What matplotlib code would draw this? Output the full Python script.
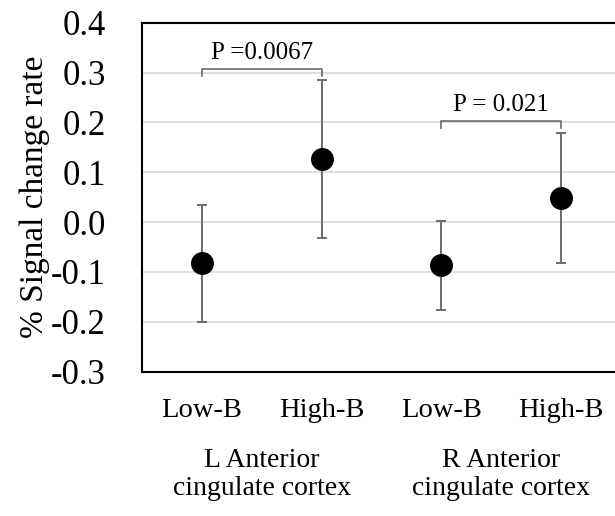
import matplotlib
matplotlib.use("Agg")
import matplotlib.pyplot as plt
import matplotlib.transforms as mtransforms

plt.rcParams['font.family'] = ['Liberation Serif', 'DejaVu Serif']

# values
conditions = ['Low-B', 'High-B', 'Low-B', 'High-B']
means = [-0.083, 0.126, -0.087, 0.048]
errors = [0.118, 0.158, 0.090, 0.130]
regions = ['L Anterior', 'R Anterior']
region_sub = ['cingulate cortex', 'cingulate cortex']
p_labels = ['P =0.0067', 'P = 0.021']
p_pairs = [(0, 1), (2, 3)]
p_bracket_y = [0.307, 0.202]
yticks = [-0.3, -0.2, -0.1, 0.0, 0.1, 0.2, 0.3, 0.4]

fig = plt.figure(figsize=(6.15, 5.16), dpi=100)
ax = fig.add_axes([0.2309, 0.2797, 0.779, 0.6764])

x = list(range(len(means)))
ax.errorbar(x, means, yerr=errors, fmt='none', ecolor='#6b6b6b',
            elinewidth=1.4, capsize=3.5, capthick=1.4, zorder=3)
ax.plot(x, means, 'o', color='black', markersize=15.5, zorder=4)

ax.set_xlim(-0.5, 3.5)
ax.set_ylim(-0.3, 0.4)
ax.set_yticks(yticks)
ax.set_yticklabels(['%.1f' % v for v in yticks], fontsize=25)
ax.set_xticks(x)
ax.set_xticklabels(conditions, fontsize=20.5)
ax.tick_params(axis='both', length=0)
ax.tick_params(axis='y', pad=26)
ax.tick_params(axis='x', pad=19)

for v in yticks[1:-1]:
    ax.axhline(v, color='#d9d9d9', lw=1.2, zorder=1)

for s in ['left', 'top', 'bottom']:
    ax.spines[s].set_linewidth(1.5)
    ax.spines[s].set_color('black')
ax.spines['right'].set_visible(False)

ax.set_ylabel('% Signal change rate', fontsize=24)
ax.yaxis.label.set_verticalalignment('center')
ax.yaxis.set_label_coords(-0.224, 0.5)

# significance brackets
for (a, b), yb, lab in zip(p_pairs, p_bracket_y, p_labels):
    ax.plot([a, a, b, b], [yb - 0.013, yb, yb, yb - 0.013], color='#6b6b6b', lw=1.2, zorder=2)
    ax.text((a + b) / 2, yb + 0.021, lab, ha='center', va='baseline', fontsize=18)

# group labels under the tick labels
trans = mtransforms.blended_transform_factory(ax.transData, fig.transFigure)
for (a, b), r1, r2 in zip(p_pairs, regions, region_sub):
    xc = (a + b) / 2
    ax.text(xc, 0.0955, r1, transform=trans, ha='center', va='baseline', fontsize=20)
    ax.text(xc, 0.0407, r2, transform=trans, ha='center', va='baseline', fontsize=20)

fig.savefig('out.png', dpi=100)
